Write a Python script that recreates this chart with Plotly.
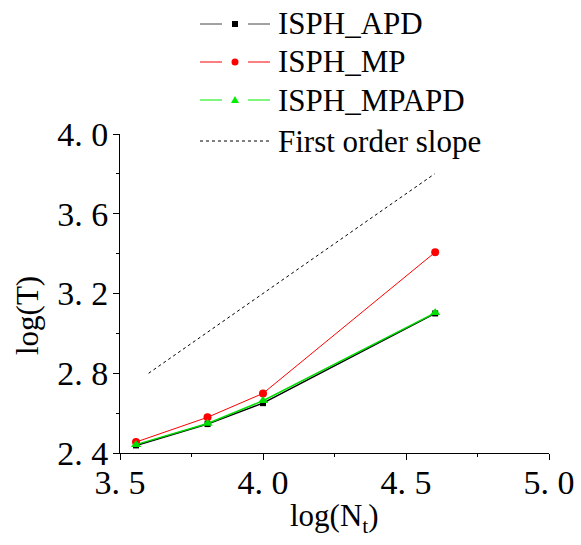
import plotly.graph_objects as go

# ---- data ----
x_vals = [3.556, 3.806, 4.0, 4.602]
apd = [2.438, 2.545, 2.650, 3.100]
mp = [2.455, 2.579, 2.699, 3.407]
mpapd = [2.442, 2.548, 2.662, 3.103]
slope_x = [3.6, 4.6]
slope_y = [2.8, 3.8]

x_ticks = [3.5, 4.0, 4.5, 5.0]
x_ticktext = ["3. 5", "4. 0", "4. 5", "5. 0"]
y_ticks = [2.4, 2.8, 3.2, 3.6, 4.0]
y_ticktext = ["2. 4", "2. 8", "3. 2", "3. 6", "4. 0"]
legend_names = ["ISPH_APD", "ISPH_MP", "ISPH_MPAPD", "First order slope"]

FONT = "Liberation Serif, Times New Roman, serif"

fig = go.Figure()
fig.add_trace(go.Scatter(x=slope_x, y=slope_y, mode="lines", name=legend_names[3],
                         line=dict(color="black", width=1, dash="dot")))
fig.add_trace(go.Scatter(x=x_vals, y=apd, mode="lines+markers", name=legend_names[0],
                         line=dict(color="black", width=1.5),
                         marker=dict(symbol="square", size=6, color="black")))
fig.add_trace(go.Scatter(x=x_vals, y=mp, mode="lines+markers", name=legend_names[1],
                         line=dict(color="red", width=1),
                         marker=dict(symbol="circle", size=8, color="red")))
fig.add_trace(go.Scatter(x=x_vals, y=mpapd, mode="lines+markers", name=legend_names[2],
                         line=dict(color="#00dd00", width=1.5),
                         marker=dict(symbol="triangle-up", size=9, color="#00dd00")))

# plot area in pixels
L, R, T, B = 120, 549, 134, 453
def px(x):
    return (x - L) / (R - L)
def py(y):
    return (B - y) / (B - T)

shapes = []
annotations = []
rows = [24, 62, 100, 141]
colors = ["#444444", "red", "#00ee00"]
for i in range(3):
    yy = py(rows[i])
    shapes.append(dict(type="line", xref="paper", yref="paper", x0=px(200), x1=px(222), y0=yy, y1=yy,
                       line=dict(color=colors[i], width=1)))
    shapes.append(dict(type="line", xref="paper", yref="paper", x0=px(248), x1=px(270), y0=yy, y1=yy,
                       line=dict(color=colors[i], width=1)))
# legend markers
shapes.append(dict(type="rect", xref="paper", yref="paper", xsizemode="pixel", ysizemode="pixel",
                   xanchor=px(235), yanchor=py(rows[0]), x0=-3, x1=3, y0=-3, y1=3,
                   fillcolor="black", line=dict(width=0)))
shapes.append(dict(type="circle", xref="paper", yref="paper", xsizemode="pixel", ysizemode="pixel",
                   xanchor=px(235), yanchor=py(rows[1]), x0=-3.5, x1=3.5, y0=-3.5, y1=3.5,
                   fillcolor="red", line=dict(width=0)))
shapes.append(dict(type="path", xref="paper", yref="paper", xsizemode="pixel", ysizemode="pixel",
                   xanchor=px(235), yanchor=py(rows[2]), path="M-4,-3 L4,-3 L0,4 Z",
                   fillcolor="#00ee00", line=dict(width=0)))
shapes.append(dict(type="line", xref="paper", yref="paper", x0=px(200), x1=px(270),
                   y0=py(rows[3]), y1=py(rows[3]), line=dict(color="black", width=1, dash="dot")))
for i, name in enumerate(legend_names):
    annotations.append(dict(text=name, xref="paper", yref="paper", x=px(276), y=py(rows[i]),
                            xanchor="left", yanchor="middle", showarrow=False,
                            font=dict(family=FONT, size=31, color="black")))

# axis titles
annotations.append(dict(text="log(N<sub>t</sub>)", xref="paper", yref="paper", x=px(334), y=py(518),
                        xanchor="center", yanchor="middle", showarrow=False,
                        font=dict(family=FONT, size=31, color="black")))
annotations.append(dict(text="log(T)", xref="paper", yref="paper", x=px(27), y=py(316),
                        xanchor="center", yanchor="middle", showarrow=False, textangle=-90,
                        font=dict(family=FONT, size=31, color="black")))

fig.update_layout(
    width=581, height=545,
    margin=dict(l=L, r=581 - R, t=T, b=545 - B, autoexpand=False),
    paper_bgcolor="white", plot_bgcolor="white",
    showlegend=False,
    shapes=shapes, annotations=annotations,
    xaxis=dict(range=[3.5, 5.0], tickvals=x_ticks, ticktext=x_ticktext, automargin=False,
               showgrid=False, zeroline=False, showline=True, linecolor="black", linewidth=1,
               ticks="outside", ticklen=6, tickcolor="black", ticklabelstandoff=-7,
               minor=dict(tickvals=[3.75, 4.25, 4.75], ticks="outside", ticklen=3, tickcolor="black"),
               tickfont=dict(family=FONT, size=34, color="black")),
    yaxis=dict(range=[2.4, 4.0], tickvals=y_ticks, ticktext=y_ticktext, automargin=False,
               showgrid=False, zeroline=False, showline=True, linecolor="black", linewidth=1,
               ticks="outside", ticklen=6, tickcolor="black", ticklabelstandoff=-2,
               minor=dict(tickvals=[2.6, 3.0, 3.4, 3.8], ticks="outside", ticklen=3, tickcolor="black"),
               tickfont=dict(family=FONT, size=34, color="black")),
)

fig.write_html("out.html", config={"displayModeBar": False},
               post_script="document.body.style.margin='0';document.body.style.padding='0';")
